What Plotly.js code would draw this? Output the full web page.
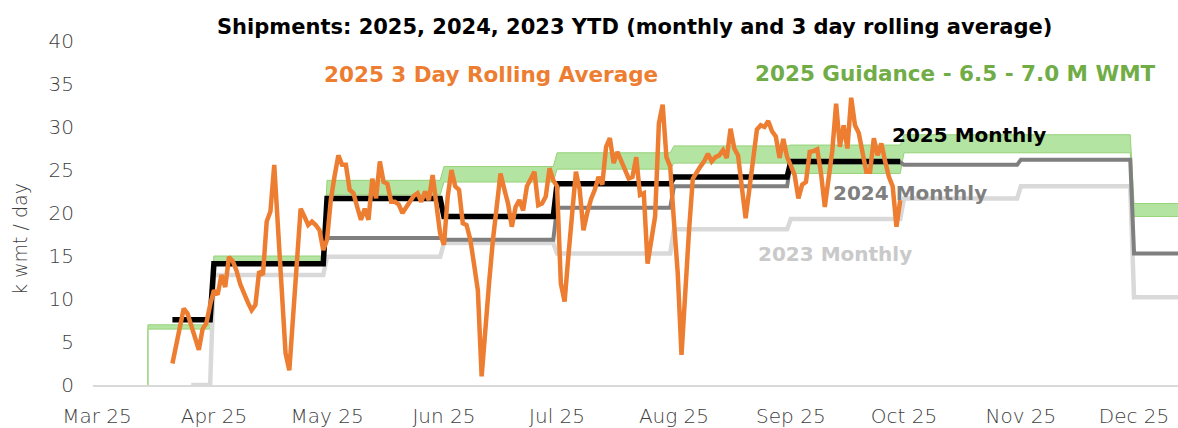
<!DOCTYPE html>
<html>
<head>
<meta charset="utf-8">
<script src="https://cdn.plot.ly/plotly-3.0.1.min.js"></script>
<style>html,body{margin:0;padding:0;background:#fff;}#chart{width:1178px;height:428px;}</style>
</head>
<body>
<div id="chart"></div>
<script>
// ---- data ----
const monthStarts = ['2025-03-01','2025-04-01','2025-05-01','2025-06-01','2025-07-01','2025-08-01','2025-09-01','2025-10-01','2025-11-01','2025-12-01'];
const tickLabels = ['Mar 25','Apr 25','May 25','Jun 25','Jul 25','Aug 25','Sep 25','Oct 25','Nov 25','Dec 25'];
const guidanceUpper = [7.0, 15.0, 23.8, 25.4, 27.0, 27.8, 27.9, 29.1, 29.1, 21.1];
const guidanceLower = [6.5, 13.9, 22.1, 23.6, 25.1, 25.8, 24.6, 27.0, 27.0, 19.6];
const monthly2025 = [7.6, 14.1, 21.7, 19.6, 23.4, 24.2, 26.0, null, null, null];
const monthly2024 = [null, null, 17.1, 16.9, 20.6, 23.1, 25.9, 25.6, 26.2, 15.3];
const monthly2023 = [0.0, 12.8, 14.9, 16.5, 15.3, 18.1, 19.3, 21.7, 23.1, 10.2];
const guidanceStart = '2025-03-14 12:00';
const start2025 = '2025-03-21';
const start2023 = '2025-03-26';
const seriesEnd = '2025-12-31';
const rollingStart = '2025-03-21';
const rolling2025 = [
 2.5, 4.7, 6.8, 8.9, 8.3, 6.9, 5.5, 4.1, 6.5, 7.2, 9.3,
 11.0, 10.5, 12.8, 11.4, 14.9, 14.4, 13.3, 11.7, 10.5, 9.6,
 8.7, 9.3, 13.2, 12.8, 19.0, 20.2, 25.6, 17.6, 10.3, 3.7,
 1.7, 8.0, 14.2, 20.5, 19.6, 18.6, 19.0, 18.6, 18.0, 15.7,
 16.9, 21.5, 24.3, 26.7, 25.6, 25.6, 22.7, 22.3, 20.7, 19.2,
 20.5, 19.2, 24.0, 21.7, 26.0, 23.6, 23.4, 21.3, 21.3, 21.0,
 20.0, 20.7, 21.5, 22.0, 22.3, 21.3, 22.5, 21.5, 24.4, 20.7,
 17.6, 16.3, 21.9, 25.0, 23.1, 22.7, 18.8, 18.6, 16.9, 14.0,
 11.0, 1.0, 7.2, 12.0, 16.9, 20.8, 24.6, 22.8, 21.1, 18.4,
 20.7, 21.5, 20.3, 23.1, 24.0, 24.8, 20.9, 21.1, 21.9, 25.2,
 23.8, 23.1, 11.8, 9.7, 15.0, 20.5, 24.8, 22.7, 18.0, 20.0,
 21.6, 22.7, 24.2, 23.3, 27.7, 28.7, 25.8, 27.1, 26.0, 25.0,
 24.0, 24.2, 26.5, 22.1, 22.3, 14.1, 16.5, 19.6, 30.4, 32.6,
 26.5, 25.4, 19.0, 13.0, 3.5, 11.4, 18.0, 24.0, 24.8, 25.4,
 26.0, 26.9, 26.0, 26.5, 26.7, 27.3, 26.4, 29.8, 27.5, 26.7,
 23.0, 19.4, 22.8, 26.3, 29.7, 30.2, 30.0, 30.7, 29.5, 28.9,
 26.4, 28.6, 26.5, 25.5, 24.4, 21.7, 23.3, 23.6, 27.1, 27.2,
 27.4, 24.6, 20.7, 24.0, 27.3, 32.7, 27.7, 30.2, 27.5, 33.4,
 30.2, 29.3, 27.0, 24.8, 24.8, 28.7, 26.7, 28.1, 26.0, 24.2,
 23.1, 18.4, 21.5
];

// ---- helpers ----
function iso(d){ return d.toISOString().slice(0,10); }
function lastDay(i){ const p = monthStarts[i].split('-').map(Number); return iso(new Date(Date.UTC(p[0], p[1], 0))); }
function steps(values, firstDate, endDate, fromZero){
  const xs = [], ys = [];
  let first = true;
  for (let i = 0; i < values.length; i++){
    const v = values[i];
    if (v === null) continue;
    const s = first && firstDate ? firstDate : monthStarts[i];
    if (first && fromZero){ xs.push(s); ys.push(0); }
    first = false;
    let e = lastDay(i);
    if (endDate && e > endDate) e = endDate;
    xs.push(s); ys.push(v);
    xs.push(e); ys.push(v);
  }
  return {x: xs, y: ys};
}
function dailyDates(start, n){
  const p = start.split('-').map(Number);
  const out = [];
  for (let i = 0; i < n; i++) out.push(iso(new Date(Date.UTC(p[0], p[1]-1, p[2]+i))));
  return out;
}

const gU = steps(guidanceUpper, guidanceStart, seriesEnd, true);
const gL = steps(guidanceLower, guidanceStart, seriesEnd, true);
const s25 = steps(monthly2025, start2025, '2025-09-30', false);
const s24 = steps(monthly2024, null, seriesEnd, false);
const s23 = steps(monthly2023, start2023, seriesEnd, false);

const traces = [
  {x: gL.x, y: gL.y, mode: 'lines', line: {color: 'rgb(150,210,120)', width: 1}, hoverinfo: 'skip', showlegend: false},
  {x: gU.x, y: gU.y, mode: 'lines', fill: 'tonexty', fillcolor: 'rgb(180,228,162)', line: {color: 'rgb(150,210,120)', width: 1}, hoverinfo: 'skip', showlegend: false},
  {x: s23.x, y: s23.y, mode: 'lines', line: {color: '#d9d9d9', width: 4.5}, showlegend: false},
  {x: s24.x, y: s24.y, mode: 'lines', line: {color: '#7f7f7f', width: 4}, showlegend: false},
  {x: s25.x, y: s25.y, mode: 'lines', line: {color: '#000000', width: 5.5}, showlegend: false},
  {x: dailyDates(rollingStart, rolling2025.length), y: rolling2025, mode: 'lines', line: {color: '#ED7D31', width: 4.5}, showlegend: false}
];

// pixel -> paper helpers for label placement
const L = 93, R = 1178, T = 41, B = 385;
const xp = px => (px - L) / (R - L);
const yp = py => (B - py) / (B - T);
function lab(text, px, py, color, size){
  return {text: '<b>' + text + '</b>', x: xp(px), y: yp(py), xref: 'paper', yref: 'paper', xanchor: 'center', yanchor: 'middle', showarrow: false,
          font: {family: 'DejaVu Sans', size: size || 21, color: color}};
}

const layout = {
  width: 1178, height: 428,
  margin: {l: 93, r: 0, t: 41, b: 43, pad: 0},
  paper_bgcolor: '#ffffff', plot_bgcolor: '#ffffff',
  showlegend: false,
  xaxis: {
    type: 'date', range: ['2025-02-27 22:32', '2025-12-12 15:50'],
    tickvals: monthStarts, ticktext: tickLabels,
    showgrid: false, zeroline: false, showline: true, linecolor: '#d9d9d9', linewidth: 1.5,
    ticks: '', ticklabelstandoff: 12,
    tickfont: {family: 'DejaVu Sans', size: 20, color: '#404040', weight: 200}
  },
  yaxis: {
    range: [0, 40], tickvals: [0,5,10,15,20,25,30,35,40],
    showgrid: false, zeroline: false, showline: false, ticks: '', ticklabelstandoff: 18,
    tickfont: {family: 'DejaVu Sans', size: 20, color: '#404040', weight: 200}
  },
  annotations: [
    lab('Shipments: 2025, 2024, 2023 YTD (monthly and 3 day rolling average)', 634, 27, '#000000', 21),
    lab('2025 3 Day Rolling Average', 491, 75, '#ED7D31', 21.5),
    lab('2025 Guidance - 6.5 - 7.0 M WMT', 955, 73, '#70AD47', 21.5),
    lab('2025 Monthly', 969, 135, '#000000', 20),
    lab('2024 Monthly', 910, 193, '#7f7f7f', 20),
    lab('2023 Monthly', 835, 254, '#c9c9c9', 20),
    {text: 'k wmt / day', x: xp(20), y: yp(239), xref: 'paper', yref: 'paper', xanchor: 'center', yanchor: 'middle', showarrow: false, textangle: -90,
     font: {family: 'DejaVu Sans', size: 19, color: '#404040', weight: 200}}
  ]
};

Plotly.newPlot('chart', traces, layout, {staticPlot: true, displayModeBar: false});
</script>
</body>
</html>
